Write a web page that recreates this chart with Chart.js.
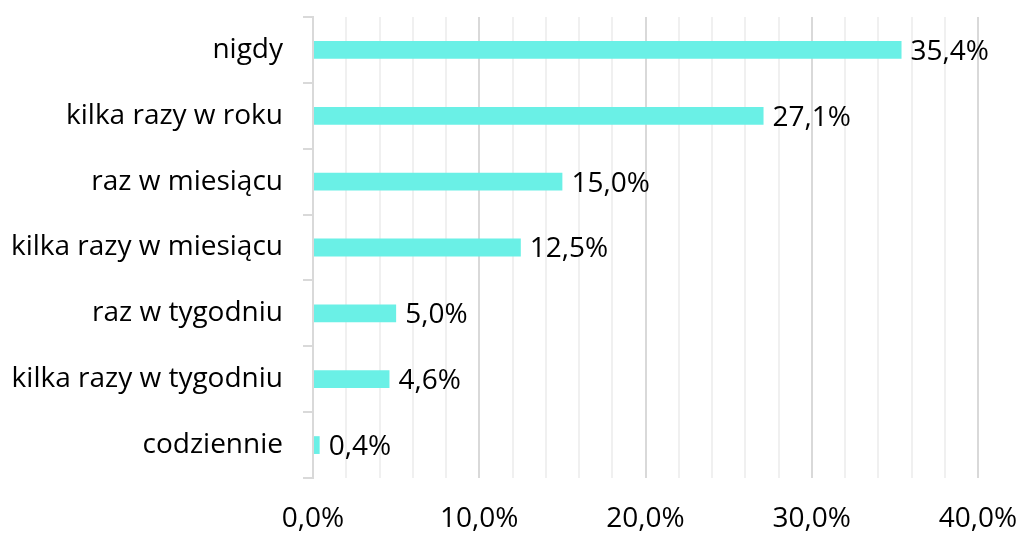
<!DOCTYPE html>
<html>
<head>
<meta charset="utf-8">
<script src="https://cdn.jsdelivr.net/npm/chart.js@4.4.1/dist/chart.umd.min.js"></script>
<style>
html,body{margin:0;padding:0;background:#fff;}
#wrap{width:1021px;height:533px;position:relative;}
</style>
</head>
<body>
<div id="wrap"><canvas id="c" width="1021" height="533"></canvas></div>
<script>
const categories = ["nigdy","kilka razy w roku","raz w miesiącu","kilka razy w miesiącu","raz w tygodniu","kilka razy w tygodniu","codziennie"];
const values = [35.4, 27.1, 15.0, 12.5, 5.0, 4.6, 0.4];
const xTickLabels = ["0,0%","10,0%","20,0%","30,0%","40,0%"];

const FONT = "'Open Sans', sans-serif";
const FS = 28;
const fmt = v => v.toFixed(1).replace('.', ',') + '%';

const labelPlugin = {
  id: 'barLabels',
  afterDatasetsDraw(chart) {
    const ctx = chart.ctx;
    const meta = chart.getDatasetMeta(0);
    ctx.save();
    ctx.font = FS + "px " + FONT;
    ctx.fillStyle = '#000';
    ctx.textAlign = 'left';
    ctx.textBaseline = 'middle';
    meta.data.forEach((bar, i) => {
      ctx.fillText(fmt(values[i]), bar.x + 9, bar.y + 2);
    });
    ctx.restore();
  }
};

new Chart(document.getElementById('c'), {
  type: 'bar',
  data: {
    labels: categories,
    datasets: [{
      data: values,
      backgroundColor: '#6af0e6',
      borderWidth: 0,
      barPercentage: 0.27,
      categoryPercentage: 1.0
    }]
  },
  options: {
    indexAxis: 'y',
    responsive: false,
    animation: false,
    devicePixelRatio: 1,
    layout: { padding: { left: 0, right: 43, top: 17, bottom: 0 } },
    plugins: { legend: { display: false }, tooltip: { enabled: false } },
    scales: {
      x: {
        min: 0, max: 40,
        ticks: {
          stepSize: 2,
          autoSkip: false,
          maxTicksLimit: 30,
          maxRotation: 0,
          color: '#000',
          font: { family: FONT, size: FS },
          padding: 24,
          callback: function(v) {
            if (v % 10 === 0) return xTickLabels[v / 10];
            return '';
          }
        },
        grid: {
          drawTicks: false,
          color: ctx => (ctx.tick && Math.round(ctx.tick.value) % 10 === 0) ? '#d9d9d9' : '#f0f0f0',
          lineWidth: 2
        },
        border: { display: false },
        afterFit(scale) { scale.height = 55; scale.paddingLeft = 0; scale.paddingRight = 0; }
      },
      y: {
        ticks: {
          color: '#000',
          font: { family: FONT, size: FS },
          padding: 20
        },
        grid: {
          drawOnChartArea: false,
          drawTicks: true,
          tickLength: 10,
          color: '#d9d9d9',
          lineWidth: 2
        },
        border: { display: true, color: '#d9d9d9', width: 2 },
        afterFit(scale) { scale.width = 313; scale.paddingTop = 0; scale.paddingBottom = 0; }
      }
    }
  },
  plugins: [labelPlugin]
});
</script>
</body>
</html>
